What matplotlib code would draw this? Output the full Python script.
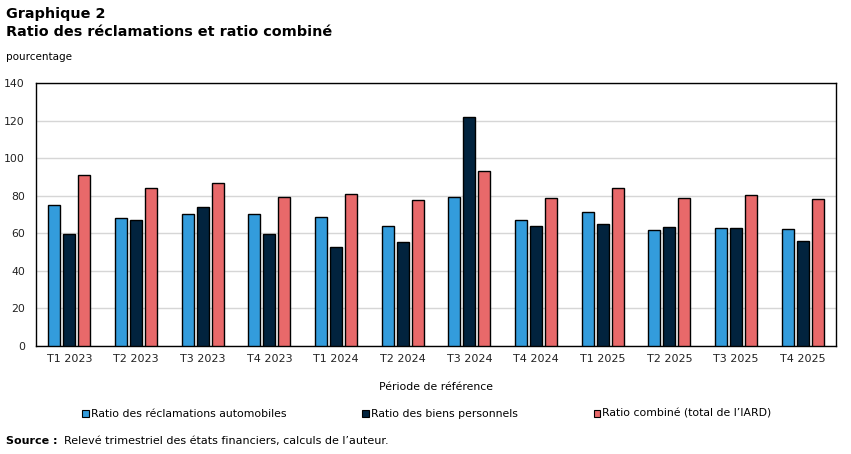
import matplotlib
matplotlib.use("Agg")
import matplotlib.pyplot as plt
import numpy as np
from matplotlib.patches import Patch

categories = ["T1 2023", "T2 2023", "T3 2023", "T4 2023",
              "T1 2024", "T2 2024", "T3 2024", "T4 2024",
              "T1 2025", "T2 2025", "T3 2025", "T4 2025"]
auto = [75.0, 68.1, 70.3, 70.3, 68.7, 63.9, 79.3, 67.1, 71.3, 61.7, 62.8, 62.3]
biens = [59.6, 67.1, 74.0, 59.6, 52.7, 55.4, 121.9, 63.9, 64.9, 63.3, 62.8, 55.9]
combine = [91.0, 84.1, 86.8, 79.3, 80.9, 77.7, 93.2, 78.8, 84.1, 78.8, 80.4, 78.2]
series_names = ["Ratio des réclamations automobiles", "Ratio des biens personnels",
                "Ratio combiné (total de l\u2019IARD)"]
colors = ["#339CDC", "#02233E", "#E8696A"]
yticks = [0, 20, 40, 60, 80, 100, 120, 140]

plt.rcParams['font.family'] = ['DejaVu Sans']
fig = plt.figure(figsize=(8.51, 4.54), dpi=100)
ax = fig.add_axes([36/851, 1-346/454, 800/851, (346-83)/454])

x = np.arange(len(categories))
w = 0.18
off = 0.225
for i, (vals, c) in enumerate(zip([auto, biens, combine], colors)):
    ax.bar(x + (i-1)*off, vals, width=w, color=c, edgecolor="black", linewidth=1.0, zorder=3)

ax.set_xlim(-0.5, len(categories)-0.5)
ax.set_ylim(0, 140)
ax.set_yticks(yticks)
ax.set_xticks(x)
ax.set_xticklabels(categories, fontsize=8, color="#222222")
ax.tick_params(axis='y', labelsize=7.8, length=0, pad=8, colors="#222222")
ax.tick_params(axis='x', length=0, pad=6)
ax.grid(axis='y', color="#d6d6d6", linewidth=1, zorder=0)
for s in ax.spines.values():
    s.set_color("black")
    s.set_linewidth(1)

fig.text(6/851, 1-14/454, "Graphique 2", fontsize=10.4, fontweight="bold", va="center", ha="left")
fig.text(6/851, 1-32/454, "Ratio des réclamations et ratio combiné", fontsize=10.4, fontweight="bold", va="center", ha="left")
fig.text(6/851, 1-57/454, "pourcentage", fontsize=7.5, va="center", ha="left")
fig.text(436/851, 1-387/454, "Période de référence", fontsize=7.8, va="center", ha="center")

handles = [Patch(facecolor=c, edgecolor="black", linewidth=0.8) for c in colors]
fig.legend(handles, series_names, loc="center", bbox_to_anchor=(427/851, 1-414/454),
           ncol=3, frameon=False, fontsize=7.8, handlelength=0.6, handleheight=0.6,
           handletextpad=0.2, columnspacing=7.0)

fig.text(6/851, 1-441/454, "Source :", fontsize=8, fontweight="bold", va="center", ha="left")
fig.text(64/851, 1-441/454, "Relevé trimestriel des états financiers, calculs de l\u2019auteur.",
         fontsize=8, va="center", ha="left")

fig.savefig("out.png", dpi=100)
